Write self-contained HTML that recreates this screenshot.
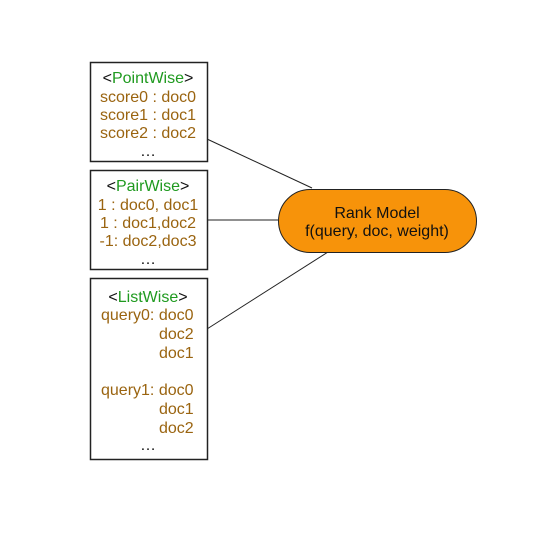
<!DOCTYPE html>
<html><head><style>
body{margin:0;background:#fff;width:549px;height:531px;overflow:hidden}
svg text{font-family:"Liberation Sans",sans-serif;font-size:16px}
.g{fill:#1f9a1f}.b{fill:#9a6410}.k{fill:#111}
</style></head><body>
<svg width="549" height="531" xmlns="http://www.w3.org/2000/svg">
<g stroke="#222" stroke-width="1" fill="none">
<line x1="207" y1="139" x2="312" y2="188"/>
<line x1="207" y1="220" x2="278" y2="220"/>
<line x1="207" y1="329" x2="328" y2="252"/>
<rect x="90.5" y="62.5" width="117" height="99" fill="#fff" stroke-width="1.5"/>
<rect x="90.5" y="170.5" width="117" height="99" fill="#fff" stroke-width="1.5"/>
<rect x="90.5" y="278.5" width="117" height="181" fill="#fff" stroke-width="1.5"/>
<rect x="278.5" y="189.5" width="198" height="63" rx="31.5" fill="#f7930a"/>
</g>
<g text-anchor="middle">
<text x="148" y="83"><tspan class="k">&lt;</tspan><tspan class="g">PointWise</tspan><tspan class="k">&gt;</tspan></text>
<text class="b" x="148" y="102">score0 : doc0</text>
<text class="b" x="148" y="120">score1 : doc1</text>
<text class="b" x="148" y="138">score2 : doc2</text>
<text class="k" x="148" y="156">…</text>
<text x="148" y="191"><tspan class="k">&lt;</tspan><tspan class="g">PairWise</tspan><tspan class="k">&gt;</tspan></text>
<text class="b" x="148" y="210">1 : doc0, doc1</text>
<text class="b" x="148" y="228">1 : doc1,doc2</text>
<text class="b" x="148" y="246">-1: doc2,doc3</text>
<text class="k" x="148" y="264">…</text>
<text x="148" y="302"><tspan class="k">&lt;</tspan><tspan class="g">ListWise</tspan><tspan class="k">&gt;</tspan></text>
<text class="k" x="148" y="450">…</text>
<text class="k" x="377" y="218">Rank Model</text>
<text class="k" x="377" y="236">f(query, doc, weight)</text>
</g>
<text class="b" x="101" y="320">query0: doc0</text>
<text class="b" x="159" y="339">doc2</text>
<text class="b" x="159" y="358">doc1</text>
<text class="b" x="101" y="395">query1: doc0</text>
<text class="b" x="159" y="414">doc1</text>
<text class="b" x="159" y="433">doc2</text>
</svg>
</body></html>
